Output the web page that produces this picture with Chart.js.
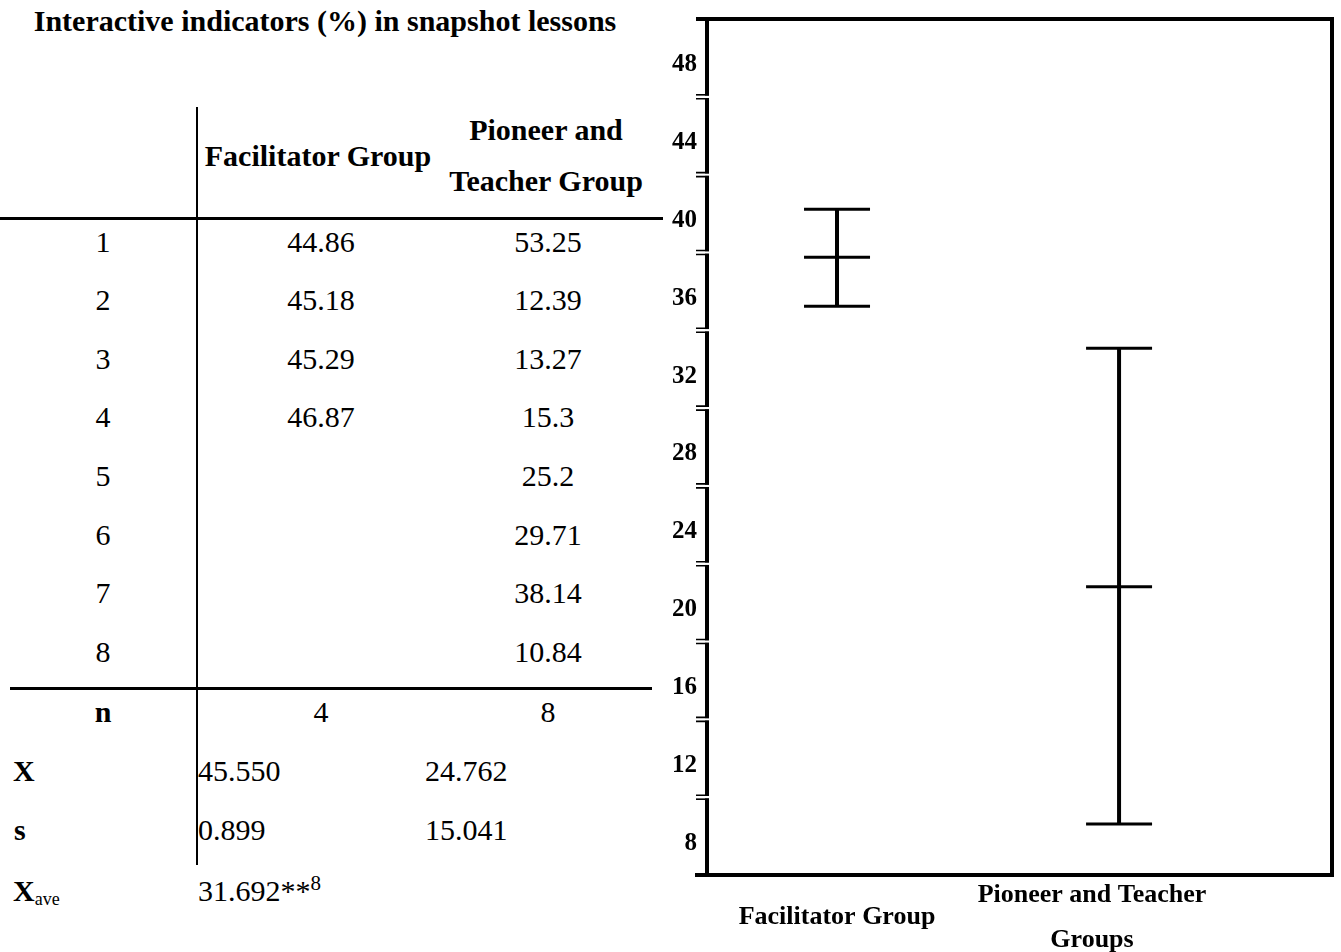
<!DOCTYPE html>
<html><head><meta charset="utf-8">
<script src="https://cdn.jsdelivr.net/npm/chart.js@4.4.0/dist/chart.umd.min.js"></script>
<style>
html,body{margin:0;padding:0;background:#fff;overflow:hidden;}
body{width:1341px;height:952px;position:relative;font-family:"Liberation Serif","Times New Roman",serif;color:#000;}
.t{position:absolute;font-family:"Liberation Serif","Times New Roman",serif;font-size:30px;line-height:30px;white-space:nowrap;}
.c{text-align:center;width:300px;}
.b{font-weight:bold;}
.ln{position:absolute;background:#000;}
#wrap{position:absolute;left:640px;top:0;width:701px;height:952px;}
</style></head><body>
<div id="table"></div>
<div id="wrap"><canvas id="chart" width="701" height="952" style="width:701px;height:952px"></canvas></div>
<script>
// ---------- table data ----------
const chartTitle = 'Interactive indicators (%) in snapshot lessons';
const facilitatorHeader = 'Facilitator Group';
const pioneerHeader = ['Pioneer and', 'Teacher Group'];
const lessonNumbers = ['1', '2', '3', '4', '5', '6', '7', '8'];
const facilitatorValues = ['44.86', '45.18', '45.29', '46.87'];
const pioneerValues = ['53.25', '12.39', '13.27', '15.3', '25.2', '29.71', '38.14', '10.84'];
const facilitatorStats = ['4', '45.550', '0.899'];
const pioneerStats = ['8', '24.762', '15.041'];
const overallMean = '31.692**';
const overallNote = '8';

// ---------- chart data ----------
const groupLabels = ['Facilitator Group', ['Pioneer and Teacher', 'Groups']];
const groupMeans = [37.75, 20.82];
const groupUpper = [40.22, 33.07];
const groupLower = [35.23, 8.62];
const yTickLabels = [8, 12, 16, 20, 24, 28, 32, 36, 40, 44, 48];

// ---------- build table ----------
const tbl = document.getElementById('table');
function put(html, x, cy, cls) {
  const d = document.createElement('div');
  d.className = 't ' + (cls || '');
  d.innerHTML = html;
  const centered = (cls || '').includes('c');
  d.style.left = (centered ? x - 150 : x) + 'px';
  d.style.top = (cy - 15) + 'px';
  tbl.appendChild(d);
}
function line(l, t, w, h) {
  const d = document.createElement('div');
  d.className = 'ln';
  d.style.cssText = `left:${l}px;top:${t}px;width:${w}px;height:${h}px`;
  tbl.appendChild(d);
}
const title = document.createElement('div');
title.className = 't b';
title.textContent = chartTitle;
title.style.left = '0px'; title.style.width = '650px'; title.style.textAlign = 'center';
title.style.top = '6px';
tbl.appendChild(title);

const colX = [103, 321, 548];
put(facilitatorHeader, 318, 156, 'c b');
put(pioneerHeader[0], 546, 130, 'c b');
put(pioneerHeader[1], 546, 181, 'c b');
line(196, 107, 2, 758);
line(0, 217, 663, 3);
line(10, 687, 642, 3);
lessonNumbers.forEach((n, i) => {
  const cy = 241.5 + 58.6 * i;
  put(n, colX[0], cy, 'c');
  if (facilitatorValues[i] !== undefined) put(facilitatorValues[i], colX[1], cy, 'c');
  if (pioneerValues[i] !== undefined) put(pioneerValues[i], colX[2], cy, 'c');
});
put('n', colX[0], 712, 'c b');
put(facilitatorStats[0], colX[1], 712, 'c');
put(pioneerStats[0], colX[2], 712, 'c');
put('X', 13, 771, 'b');
put(facilitatorStats[1], 198, 771, '');
put(pioneerStats[1], 425, 771, '');
put('s', 14, 830, 'b');
put(facilitatorStats[2], 198, 830, '');
put(pioneerStats[2], 425, 830, '');
put('<b>X</b><span style="font-size:18px;position:relative;top:4px">ave</span>', 13, 891, '');
put(overallMean + '<span style="font-size:21px;position:relative;top:-11px">' + overallNote + '</span>', 198, 891, '');

// ---------- chart ----------
const FONT = '"Liberation Serif", "Times New Roman", serif';
const step = yTickLabels[1] - yTickLabels[0];
const yMin = yTickLabels[0] - step / 2;
const yMax = yTickLabels[yTickLabels.length - 1] + step / 2;

function noPad(s) { s.paddingTop = 0; s.paddingBottom = 0; s.paddingLeft = 0; s.paddingRight = 0; }

const framePlugin = {
  id: 'frameAxis',
  afterDraw(chart) {
    const { ctx, chartArea: a, scales: { y } } = chart;
    ctx.save();
    ctx.strokeStyle = '#000';
    ctx.lineCap = 'butt';
    ctx.lineWidth = 4;
    ctx.beginPath();
    ctx.moveTo(a.left - 11, a.top);
    ctx.lineTo(a.right + 2, a.top);
    ctx.moveTo(a.right, a.top);
    ctx.lineTo(a.right, a.bottom);
    ctx.moveTo(a.right + 2, a.bottom);
    ctx.lineTo(a.left - 12, a.bottom);
    ctx.stroke();
    yTickLabels.forEach((t, i) => {
      const top = y.getPixelForValue(t + step / 2);
      const bot = y.getPixelForValue(t - step / 2);
      const isTop = i === yTickLabels.length - 1;
      const isBottom = i === 0;
      const s = isTop ? top : top + 2;
      const e = isBottom ? bot : bot - 2;
      ctx.lineWidth = 4;
      ctx.beginPath();
      ctx.moveTo(a.left, s - (isTop ? 2 : 0.8));
      ctx.lineTo(a.left, e + (isBottom ? 2 : 0.8));
      ctx.stroke();
      ctx.lineWidth = 1.6;
      ctx.beginPath();
      if (!isTop) { ctx.moveTo(a.left - 11, s); ctx.lineTo(a.left + 2, s); }
      if (!isBottom) { ctx.moveTo(a.left - 11, e); ctx.lineTo(a.left + 2, e); }
      ctx.stroke();
    });
    ctx.restore();
  }
};

const stemSets = groupMeans.map((m, i) => ({
  data: [{ x: i + 1, y: groupLower[i] }, { x: i + 1, y: groupUpper[i] }],
  showLine: true, borderColor: '#000', borderWidth: 4, pointRadius: 0
}));
const capSet = {
  data: groupUpper.map((v, i) => ({ x: i + 1, y: v })).concat(groupLower.map((v, i) => ({ x: i + 1, y: v }))),
  pointStyle: 'line', pointRadius: 33, pointBorderWidth: 3, borderColor: '#000', pointBorderColor: '#000', backgroundColor: '#000'
};
const meanSet = {
  data: groupMeans.map((v, i) => ({ x: i + 1, y: v })),
  pointStyle: 'line', pointRadius: 33, pointBorderWidth: 3, borderColor: '#000', pointBorderColor: '#000', backgroundColor: '#000'
};

new Chart(document.getElementById('chart'), {
  type: 'scatter',
  data: { datasets: [...stemSets, capSet, meanSet] },
  options: {
    responsive: false,
    animation: false,
    events: [],
    layout: { autoPadding: false, padding: { top: 19, right: 9, left: 0, bottom: 0 } },
    plugins: { legend: { display: false }, tooltip: { enabled: false } },
    scales: {
      x: { type: 'linear', display: false, min: 0.539, max: 2.755 },
      xLab: {
        type: 'linear', position: 'bottom', min: 0.4902, max: 2.941,
        grid: { display: false, drawTicks: false }, border: { display: false },
        afterBuildTicks: s => { s.ticks = groupLabels.map((_, i) => ({ value: i + 1 })); },
        afterFit: s => { s.height = 77; noPad(s); },
        ticks: {
          autoSkip: false, maxRotation: 0, minRotation: 0, padding: 20, crossAlign: 'center',
          color: '#000', font: { family: FONT, size: 26, weight: 'bold', lineHeight: 1.73 },
          callback: (v, i) => groupLabels[i]
        }
      },
      y: {
        type: 'linear', min: yMin, max: yMax,
        grid: { display: false, drawTicks: false }, border: { display: false },
        afterBuildTicks: s => { s.ticks = yTickLabels.map(v => ({ value: v })); },
        afterFit: s => { s.width = 67; noPad(s); },
        ticks: {
          padding: 10, labelOffset: 7, color: '#000',
          font: { family: FONT, size: 25, weight: 'bold' },
          callback: v => String(v)
        }
      }
    }
  },
  plugins: [framePlugin]
});
</script>
</body></html>
